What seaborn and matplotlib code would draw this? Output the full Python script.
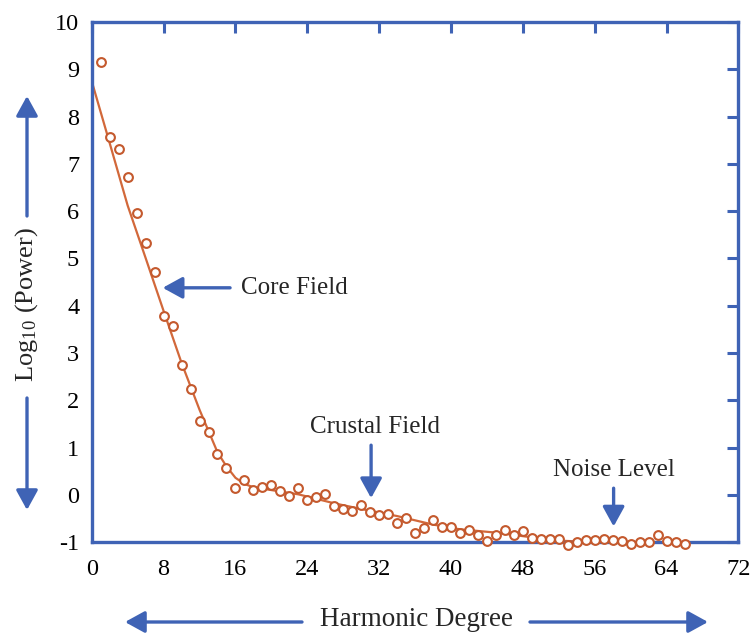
import numpy as np
import pandas as pd
import matplotlib
matplotlib.use("Agg")
import matplotlib.pyplot as plt
import seaborn as sns

# ---- data ----
degree = list(range(1, 67))
log_power = [
    9.15, 7.58, 7.32, 6.72, 5.96, 5.33, 4.71, 3.79, 3.58, 2.74,
    2.23, 1.56, 1.32, 0.86, 0.57, 0.15, 0.32, 0.10, 0.16, 0.21,
    0.08, -0.03, 0.14, -0.10, -0.04, 0.02, -0.24, -0.31, -0.34, -0.22,
    -0.36, -0.43, -0.41, -0.59, -0.49, -0.80, -0.70, -0.54, -0.68, -0.68,
    -0.80, -0.75, -0.86, -0.98, -0.84, -0.75, -0.86, -0.77, -0.91, -0.93,
    -0.93, -0.93, -1.07, -1.00, -0.96, -0.96, -0.93, -0.96, -0.98, -1.04,
    -1.00, -1.00, -0.84, -0.98, -1.00, -1.04,
]
fit_degree = [0, 2, 4, 6, 8, 10, 12, 14, 15, 16, 17, 18, 20, 23, 27, 30,
              34, 38, 41, 45, 49, 52, 56, 60, 66]
fit_power = [8.75, 7.44, 6.12, 5.01, 3.89, 2.79, 1.80, 0.90, 0.60, 0.36,
             0.23, 0.16, 0.10, 0.01, -0.18, -0.30, -0.45, -0.63, -0.73,
             -0.80, -0.90, -0.97, -1.00, -1.02, -1.03]
x_ticks = [0, 8, 16, 24, 32, 40, 48, 56, 64, 72]
y_ticks = list(range(-1, 11))

pts = pd.DataFrame({"degree": degree, "power": log_power})
fit = pd.DataFrame({"degree": fit_degree, "power": fit_power})

BLUE = "#3f63b5"
ORANGE = "#c4592d"
LINE = "#d2683a"

sns.set_theme(style="white")
plt.rcParams["font.family"] = ["Liberation Serif", "DejaVu Serif"]
plt.rcParams["mathtext.fontset"] = "stix"
plt.rcParams["axes.unicode_minus"] = False

fig = plt.figure(figsize=(7.52, 6.34), dpi=100)
ax = fig.add_axes([0.122, 0.145, 0.860, 0.820])

sns.lineplot(data=fit, x="degree", y="power", ax=ax, color=LINE,
             linewidth=1.6, sort=True, zorder=2)
sns.scatterplot(data=pts, x="degree", y="power", ax=ax, marker="o", s=40,
                facecolor="white", edgecolor=ORANGE, linewidth=1.5,
                zorder=4, clip_on=False)

ax.set_xlim(0, 72)
ax.set_ylim(-1, 10)
ax.set_xticks(x_ticks)
ax.set_yticks(y_ticks)
ax.set_xlabel("")
ax.set_ylabel("")
for sp in ax.spines.values():
    sp.set_color(BLUE)
    sp.set_linewidth(2.4)
    sp.set_visible(True)
    sp.set_zorder(3)
ax.tick_params(direction="in", length=8, width=2.2, color=BLUE,
               top=True, right=True, labelsize=17.5, labelcolor="black")
ax.tick_params(axis="x", pad=12)
ax.tick_params(axis="y", pad=9)

arrow_kw = dict(arrowstyle="-|>,head_length=1.0,head_width=0.55",
                color=BLUE, lw=2.4, shrinkA=0, shrinkB=0)

# annotations in data space
ax.annotate("", xy=(7.9, 4.38), xytext=(15.4, 4.38), arrowprops=arrow_kw)
ax.text(16.6, 4.38, "Core Field", fontsize=18, va="center", ha="left")
ax.annotate("", xy=(31.1, -0.07), xytext=(31.1, 1.05), arrowprops=arrow_kw)
ax.text(31.5, 1.44, "Crustal Field", fontsize=18, va="center", ha="center")
ax.annotate("", xy=(58.1, -0.67), xytext=(58.1, 0.14), arrowprops=arrow_kw)
ax.text(58.1, 0.52, "Noise Level", fontsize=18, va="center", ha="center")

# axis labels with long arrows, in figure pixels
W, H = 752, 634
def fp(x, y):
    return (x / W, 1 - y / H)

fig.text(*fp(416, 620), "Harmonic Degree", fontsize=19.5, ha="center", va="center")
ax.annotate("", xy=fp(125, 622), xytext=fp(302, 622), xycoords="figure fraction",
            textcoords="figure fraction", arrowprops=arrow_kw, annotation_clip=False)
ax.annotate("", xy=fp(708, 622), xytext=fp(530, 622), xycoords="figure fraction",
            textcoords="figure fraction", arrowprops=arrow_kw, annotation_clip=False)

fig.text(*fp(27, 305), r"Log$_{\mathregular{10}}$ (Power)", fontsize=19,
         rotation=90, ha="center", va="center")
ax.annotate("", xy=fp(27, 96), xytext=fp(27, 216), xycoords="figure fraction",
            textcoords="figure fraction", arrowprops=arrow_kw, annotation_clip=False)
ax.annotate("", xy=fp(27, 510), xytext=fp(27, 398), xycoords="figure fraction",
            textcoords="figure fraction", arrowprops=arrow_kw, annotation_clip=False)

fig.savefig("out.png", dpi=100, facecolor="white")
